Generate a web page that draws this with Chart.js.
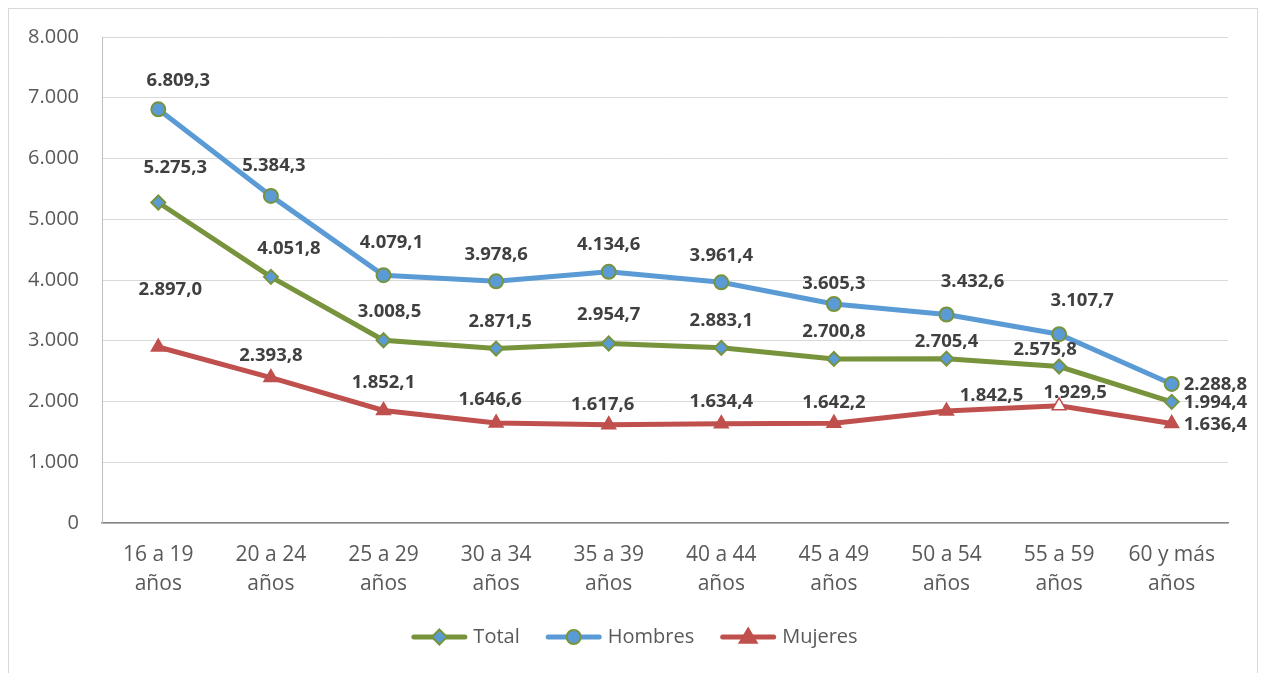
<!DOCTYPE html>
<html>
<head>
<meta charset="utf-8">
<script src="https://cdn.jsdelivr.net/npm/chart.js@4/dist/chart.umd.min.js"></script>
<style>
  html, body { margin: 0; padding: 0; background: #ffffff; }
  #wrap { position: relative; width: 1267px; height: 673px; }
  #frame { position: absolute; left: 8px; top: 8px; width: 1250px; height: 672px; border: 1px solid #d9d9d9; box-sizing: border-box; }
  canvas { position: absolute; left: 0; top: 0; }
</style>
</head>
<body>
<div id="wrap">
  <div id="frame"></div>
  <canvas id="c" width="1267" height="673"></canvas>
</div>
<script>
// ---- data ----
const categories = [
  ["16 a 19", "años"], ["20 a 24", "años"], ["25 a 29", "años"], ["30 a 34", "años"],
  ["35 a 39", "años"], ["40 a 44", "años"], ["45 a 49", "años"], ["50 a 54", "años"],
  ["55 a 59", "años"], ["60 y más", "años"]
];
const seriesNames = ["Total", "Hombres", "Mujeres"];
const totalValues   = [5275.3, 4051.8, 3008.5, 2871.5, 2954.7, 2883.1, 2700.8, 2705.4, 2575.8, 1994.4];
const hombresValues = [6809.3, 5384.3, 4079.1, 3978.6, 4134.6, 3961.4, 3605.3, 3432.6, 3107.7, 2288.8];
const mujeresValues = [2897.0, 2393.8, 1852.1, 1646.6, 1617.6, 1634.4, 1642.2, 1842.5, 1929.5, 1636.4];
const yTickMin = 0, yTickMax = 8000, yTickStep = 1000;

// ---- style ----
const GREEN = '#77933C', BLUE = '#5B9BD5', RED = '#C0504D';
const TEXT = '#595959', LABEL = '#404040';
const FONT = "'Open Sans', 'Liberation Sans', sans-serif";
// manual label nudges (as in the original, [dx, dy] in px relative to the point)
const labelNudges = [
  [[17,-35],[18,-28],[6,-28],[4,-27],[0,-29],[0,-27],[0,-27],[0,-17],[-14,-17],null],
  [[20,-29],[3,-30],[8,-32],[0,-27],[0,-27],[0,-27],[0,-20],[26,-33],[23,-33],null],
  [[12,-57],[0,-22],[0,-28],[-6,-23],[-6,-20],[0,-22],[0,-21],[45,-15],[16,-13],null]
];

function fmtEs(v, dec) {
  const neg = v < 0; v = Math.abs(v);
  const s = v.toFixed(dec);
  let [ip, fp] = s.split('.');
  ip = ip.replace(/\B(?=(\d{3})+(?!\d))/g, '.');
  return (neg ? '-' : '') + ip + (fp !== undefined ? ',' + fp : '');
}

function drawMarker(g, style, cx, cy, fill, border, bw) {
  g.save();
  g.fillStyle = fill; g.strokeStyle = border; g.lineWidth = bw;
  g.beginPath();
  if (style === 'circle') { g.arc(cx, cy, 7, 0, Math.PI * 2); }
  else if (style === 'rectRot') { g.moveTo(cx, cy - 7.5); g.lineTo(cx + 7.5, cy); g.lineTo(cx, cy + 7.5); g.lineTo(cx - 7.5, cy); g.closePath(); }
  else { g.moveTo(cx, cy - 9); g.lineTo(cx + 9, cy + 6); g.lineTo(cx - 9, cy + 6); g.closePath(); }
  g.fill(); g.stroke();
  g.restore();
}

const labelPlugin = {
  id: 'valueLabels',
  afterDatasetsDraw(chart) {
    const ctx = chart.ctx;
    ctx.save();
    ctx.font = "bold 18.5px " + FONT;
    ctx.fillStyle = LABEL;
    ctx.textBaseline = 'middle';
    chart.data.datasets.forEach((ds, di) => {
      const meta = chart.getDatasetMeta(di);
      meta.data.forEach((pt, i) => {
        const txt = fmtEs(ds.data[i], 1);
        const last = i === ds.data.length - 1;
        if (last) {
          ctx.textAlign = 'left';
          ctx.fillText(txt, pt.x + 12, pt.y + 1);
        } else {
          const n = labelNudges[di][i] || [0, -28];
          ctx.textAlign = 'center';
          ctx.fillText(txt, pt.x + n[0], pt.y + n[1]);
        }
      });
    });
    ctx.restore();
  }
};

// legend drawn below the axis: line + marker + name for each dataset
const legendPlugin = {
  id: 'lineLegend',
  afterDraw(chart) {
    const ctx = chart.ctx;
    const LINE = 56, GAP = 6, SPACE = 26, CY = 637;
    ctx.save();
    ctx.font = "20px " + FONT;
    ctx.textBaseline = 'middle';
    ctx.textAlign = 'left';
    const items = chart.data.datasets.map(ds => ({ ds, tw: ctx.measureText(ds.label).width }));
    const total = items.reduce((s, it) => s + LINE + GAP + it.tw, 0) + SPACE * (items.length - 1);
    let x = chart.width / 2 + 1 - total / 2;
    items.forEach(it => {
      const ds = it.ds;
      ctx.strokeStyle = ds.borderColor; ctx.lineWidth = 5; ctx.lineCap = 'round';
      ctx.beginPath(); ctx.moveTo(x + 2.5, CY); ctx.lineTo(x + LINE - 2.5, CY); ctx.stroke();
      const fill = Array.isArray(ds.pointBackgroundColor) ? ds.borderColor : ds.pointBackgroundColor;
      drawMarker(ctx, ds.pointStyle, x + LINE / 2, CY, fill, ds.pointBorderColor, ds.pointBorderWidth);
      ctx.fillStyle = TEXT;
      ctx.fillText(ds.label, x + LINE + GAP, CY);
      x += LINE + GAP + it.tw + SPACE;
    });
    ctx.restore();
  }
};

const mujeresFill = mujeresValues.map((v, i) => i === 8 ? '#ffffff' : RED);

new Chart(document.getElementById('c'), {
  type: 'line',
  data: {
    labels: categories,
    datasets: [
      { label: seriesNames[0], data: totalValues, borderColor: GREEN, borderWidth: 5,
        pointStyle: 'rectRot', pointRadius: 7, pointBackgroundColor: BLUE, pointBorderColor: GREEN, pointBorderWidth: 2,
        tension: 0 },
      { label: seriesNames[1], data: hombresValues, borderColor: BLUE, borderWidth: 5,
        pointStyle: 'circle', pointRadius: 7, pointBackgroundColor: BLUE, pointBorderColor: GREEN, pointBorderWidth: 2,
        tension: 0 },
      { label: seriesNames[2], data: mujeresValues, borderColor: RED, borderWidth: 5,
        pointStyle: 'triangle', pointRadius: 8, pointBackgroundColor: mujeresFill, pointBorderColor: RED, pointBorderWidth: 1.5,
        tension: 0 }
    ]
  },
  options: {
    responsive: false,
    animation: false,
    devicePixelRatio: 1,
    layout: { padding: { left: 0, right: 39, top: 37, bottom: 72 } },
    plugins: {
      tooltip: { enabled: false },
      legend: { display: false }
    },
    scales: {
      x: {
        offset: true,
        grid: { display: false, drawTicks: false, offset: true },
        border: { display: true, color: '#868686', width: 1.5 },
        ticks: { color: TEXT, font: { family: FONT, size: 21, lineHeight: 1.35 }, padding: 18, maxRotation: 0, autoSkip: false },
        afterFit(s) { s.height = 78; }
      },
      y: {
        min: yTickMin, max: yTickMax,
        grid: { color: '#d9d9d9', lineWidth: 1, drawTicks: false },
        border: { display: true, color: '#bfbfbf', width: 1 },
        ticks: { stepSize: yTickStep, color: TEXT, font: { family: FONT, size: 20 }, padding: 23,
          callback: v => fmtEs(v, 0) },
        afterFit(s) { s.width = 102; }
      }
    }
  },
  plugins: [labelPlugin, legendPlugin]
});
</script>
</body>
</html>
